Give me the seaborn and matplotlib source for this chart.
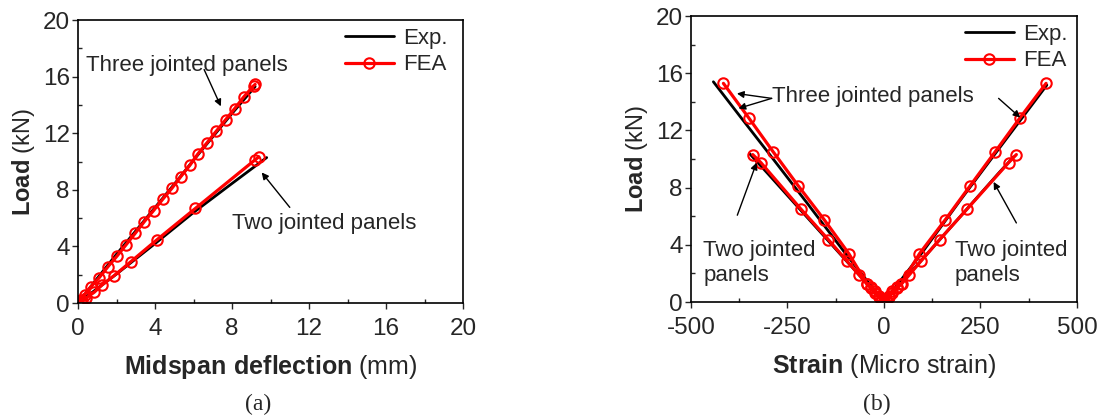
import seaborn as sns
import matplotlib
matplotlib.use("Agg")
from matplotlib import pyplot as plt

# (a) midspan deflection (mm) vs load (kN)
three_fea_x = [0, 0.14, 0.34, 0.65, 1.08, 1.56, 2.03, 2.49, 2.97, 3.44, 3.92, 4.39, 4.87,
               5.33, 5.81, 6.24, 6.71, 7.19, 7.67, 8.13, 8.60, 9.12, 9.20]
three_fea_y = [0, 0.23, 0.59, 1.13, 1.76, 2.58, 3.33, 4.11, 4.93, 5.75, 6.53, 7.32, 8.10,
               8.92, 9.74, 10.56, 11.34, 12.16, 12.96, 13.73, 14.55, 15.35, 15.45]
three_exp_x = [0, 1.0, 2.0, 3.0, 4.0, 5.0, 6.0, 7.0, 8.0, 9.2]
three_exp_y = [0, 1.75, 3.45, 5.1, 6.75, 8.4, 10.1, 11.75, 13.4, 15.3]
two_fea_x = [0, 0.2, 0.4, 0.83, 1.26, 1.86, 2.75, 4.09, 6.10, 9.17, 9.39]
two_fea_y = [0, 0.15, 0.35, 0.75, 1.29, 1.92, 2.93, 4.46, 6.69, 10.09, 10.33]
two_exp_x = [0, 2.0, 4.0, 6.0, 8.0, 9.8]
two_exp_y = [0, 2.05, 4.2, 6.4, 8.45, 10.28]

# (b) strain (micro strain) vs load (kN)
three_l_fea_x = [0, -5, -12, -22, -33, -44, -91, -155, -222, -287, -351, -416]
three_r_fea_x = [0, 5, 12, 22, 33, 45, 92, 159, 223, 288, 353, 420]
three_b_fea_y = [0, 0.2, 0.45, 0.75, 1.05, 1.28, 3.38, 5.76, 8.12, 10.5, 12.9, 15.29]
three_l_exp_x = [0, -100, -200, -300, -372, -442]
three_l_exp_y = [0, 3.4, 6.95, 10.45, 12.95, 15.4]
three_r_exp_x = [0, 100, 200, 300, 360, 422]
three_r_exp_y = [0, 3.5, 7.2, 10.8, 12.95, 15.17]
two_l_fea_x = [0, -5, -12, -22, -33, -45, -65, -96, -144, -215, -319, -340]
two_r_fea_x = [0, 5, 12, 22, 33, 46, 66, 96, 144, 215, 323, 343]
two_b_fea_y = [0, 0.15, 0.35, 0.62, 0.95, 1.28, 1.91, 2.87, 4.36, 6.49, 9.75, 10.31]
two_l_exp_x = [0, -100, -200, -300, -347]
two_l_exp_y = [0, 2.95, 5.95, 8.95, 10.34]
two_r_exp_x = [0, 100, 200, 300, 336]
two_r_exp_y = [0, 3.0, 6.05, 9.1, 10.15]

sns.set_style("ticks")
plt.rcParams["font.family"] = ["Liberation Sans", "DejaVu Sans"]
plt.rcParams["mathtext.fontset"] = "custom"
plt.rcParams["mathtext.rm"] = "Liberation Sans"
plt.rcParams["mathtext.bf"] = "Liberation Sans:bold"
plt.rcParams["axes.unicode_minus"] = False

fig = plt.figure(figsize=(11.04, 4.19), dpi=100)
ax1 = fig.add_axes([0.0707, 0.2768, 0.3487, 0.6754])
ax2 = fig.add_axes([0.6259, 0.2792, 0.3496, 0.6826])

exp_kw = dict(color="black", linewidth=2)
fea_kw = dict(color="red", linewidth=2.3, marker="o", markersize=7.5,
              markerfacecolor="none", markeredgecolor="red", markeredgewidth=1.5)


def draw(ax, x, y, kw, label=None):
    sns.lineplot(x=x, y=y, ax=ax, sort=False, estimator=None, label=label, **kw)


draw(ax1, three_exp_x, three_exp_y, exp_kw, "Exp.")
draw(ax1, two_exp_x, two_exp_y, exp_kw)
draw(ax1, three_fea_x, three_fea_y, fea_kw, "FEA")
draw(ax1, two_fea_x, two_fea_y, fea_kw)

draw(ax2, three_l_exp_x, three_l_exp_y, exp_kw, "Exp.")
draw(ax2, three_r_exp_x, three_r_exp_y, exp_kw)
draw(ax2, two_l_exp_x, two_l_exp_y, exp_kw)
draw(ax2, two_r_exp_x, two_r_exp_y, exp_kw)
draw(ax2, three_l_fea_x, three_b_fea_y, fea_kw, "FEA")
draw(ax2, three_r_fea_x, three_b_fea_y, fea_kw)
draw(ax2, two_l_fea_x, two_b_fea_y, fea_kw)
draw(ax2, two_r_fea_x, two_b_fea_y, fea_kw)

for ax, right_gap in ((ax1, 8), (ax2, 2)):
    ax.set_ylim(0, 20)
    ax.set_yticks([0, 4, 8, 12, 16, 20])
    ax.set_yticks([2, 6, 10, 14, 18], minor=True)
    ax.tick_params(which="major", direction="out", length=4, width=1, labelsize=17.5, pad=2)
    ax.tick_params(axis="x", which="major", pad=7)
    ax.tick_params(which="minor", direction="in", length=3, width=1)
    for s in ax.spines.values():
        s.set_linewidth(1.2)
        s.set_color("black")
    ax.set_ylabel(r"$\bf{Load}$ (kN)", fontsize=17, labelpad=4)
    ax.legend(loc="upper right", bbox_to_anchor=(1 - right_gap / 386, 1), frameon=False,
              fontsize=16, handlelength=2.2, handletextpad=0.4, labelspacing=0.25,
              borderaxespad=0, borderpad=0.35)

ax1.set_xlim(0, 20)
ax1.set_xticks([0, 4, 8, 12, 16, 20])
ax1.set_xticks([2, 6, 10, 14, 18], minor=True)
ax1.set_xlabel(r"$\bf{Midspan\ deflection}$ (mm)", fontsize=18, labelpad=9)

ax2.set_xlim(-500, 500)
ax2.set_xticks([-500, -250, 0, 250, 500])
ax2.set_xticks([-375, -125, 125, 375], minor=True)
ax2.set_xlabel(r"$\bf{Strain}$ (Micro strain)", fontsize=18, labelpad=9)

arrow = dict(arrowstyle="-|>", color="black", lw=1, mutation_scale=10, shrinkA=0, shrinkB=0)

ax1.text(0.4, 16.8, "Three jointed panels", fontsize=16, va="center")
ax1.annotate("", xy=(7.42, 13.9), xytext=(6.55, 16.5), arrowprops=arrow)
ax1.text(8.0, 5.6, "Two jointed panels", fontsize=16, va="center")
ax1.annotate("", xy=(9.54, 9.23), xytext=(11.0, 6.76), arrowprops=arrow)

ax2.text(-290, 14.35, "Three jointed panels", fontsize=16, va="center")
ax2.annotate("", xy=(-381, 14.58), xytext=(-291, 14.24), arrowprops=arrow)
ax2.annotate("", xy=(-377, 13.54), xytext=(-291, 14.24), arrowprops=arrow)
ax2.annotate("", xy=(353, 12.9), xytext=(297, 14.24), arrowprops=arrow)
ax2.text(-468, 2.7, "Two jointed\npanels", fontsize=16, va="center", linespacing=1.25)
ax2.annotate("", xy=(-330, 9.75), xytext=(-380, 6.07), arrowprops=arrow)
ax2.text(183, 2.7, "Two jointed\npanels", fontsize=16, va="center", linespacing=1.25)
ax2.annotate("", xy=(284, 8.4), xytext=(343, 5.53), arrowprops=arrow)

fig.text(258 / 1104, 1 - 404 / 419, "(a)", fontsize=17, family="Liberation Serif",
         ha="center", va="center")
fig.text(877 / 1104, 1 - 404 / 419, "(b)", fontsize=17, family="Liberation Serif",
         ha="center", va="center")

fig.savefig("out.png", dpi=100)
